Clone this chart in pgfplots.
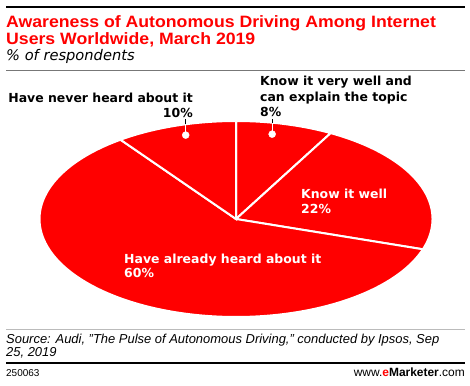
\documentclass[border=0pt]{standalone}
\usepackage{pgfplots}
\pgfplotsset{compat=1.18}
\usepackage{pgfplotstable}
\usepackage{fontspec}
\setmainfont{Liberation Sans}
\newfontfamily\labfont{DejaVu Sans}
\newfontfamily\titlefont[FakeStretch=1.075]{Liberation Sans}
\definecolor{ered}{HTML}{FF0000}
\definecolor{rulegray}{HTML}{777777}
\definecolor{lightrule}{HTML}{BBBBBB}
\pgfplotstableread{
label value
verywell 8
well 22
heard 60
never 10
}\piedata
\newcommand{\lab}{\labfont\fontsize{12.5}{15}\selectfont\bfseries}
\begin{document}
\begin{tikzpicture}[x=1bp,y=1bp]
\path[use as bounding box] (0,0) rectangle (470,385);
\pgfplotstablegetelem{0}{value}\of\piedata \let\vA\pgfplotsretval
\pgfplotstablegetelem{1}{value}\of\piedata \let\vB\pgfplotsretval
\pgfplotstablegetelem{2}{value}\of\piedata \let\vC\pgfplotsretval
\pgfplotstablegetelem{3}{value}\of\piedata \let\vD\pgfplotsretval
\pgfmathsetmacro\aA{0}
\pgfmathsetmacro\aB{\vA*3.6}
\pgfmathsetmacro\aC{(\vA+\vB)*3.6}
\pgfmathsetmacro\aD{(\vA+\vB+\vC)*3.6}
\pgfmathsetmacro\aE{(\vA+\vB+\vC+\vD)*3.6}
% rules and text
\draw[line width=2.5bp] (6,378) -- (465,378);
\node[anchor=base west, inner sep=0, font=\titlefont\fontsize{16.5}{18}\selectfont\bfseries, text=ered] at (6,358) {Awareness of Autonomous Driving Among Internet};
\node[anchor=base west, inner sep=0, font=\titlefont\fontsize{16.5}{18}\selectfont\bfseries, text=ered] at (6,341) {Users Worldwide, March 2019};
\node[anchor=base west, inner sep=0, font=\labfont\fontsize{14.7}{16}\selectfont\itshape] at (6,325) {\% of respondents};
\draw[rulegray, line width=0.8bp] (6,315) -- (465,315);
\begin{axis}[at={(39.5bp,68bp)}, anchor=south west, scale only axis, width=393bp, height=196bp,
  xmin=-1, xmax=1, ymin=-1, ymax=1, hide axis, clip=false]
\addplot[fill=ered, draw=white, line width=2bp, domain=\aA:\aB, samples=60, variable=\t] ({sin(\t)},{cos(\t)}) -- (axis cs:0,0) -- cycle;
\addplot[fill=ered, draw=white, line width=2bp, domain=\aB:\aC, samples=80, variable=\t] ({sin(\t)},{cos(\t)}) -- (axis cs:0,0) -- cycle;
\addplot[fill=ered, draw=white, line width=2bp, domain=\aC:\aD, samples=150, variable=\t] ({sin(\t)},{cos(\t)}) -- (axis cs:0,0) -- cycle;
\addplot[fill=ered, draw=white, line width=2bp, domain=\aD:\aE, samples=60, variable=\t] ({sin(\t)},{cos(\t)}) -- (axis cs:0,0) -- cycle;
\addplot[white, line width=1.2bp] coordinates {(-0.256,0.856) (-0.256,0.967)};
\addplot[black, line width=1.2bp] coordinates {(-0.256,0.967) (-0.256,1.02)};
\addplot[white, line width=1.2bp] coordinates {(0.184,0.866) (0.184,0.983)};
\addplot[black, line width=1.2bp] coordinates {(0.184,0.983) (0.184,1.02)};
\addplot[only marks, mark=*, mark size=3.5bp, mark options={draw=white, fill=white}] coordinates {(-0.256,0.856) (0.184,0.866)};
\end{axis}
\node[anchor=base east, inner sep=0, font=\lab] at (193,283) {Have never heard about it};
\node[anchor=base east, inner sep=0, font=\lab] at (193,268) {10\%};
\node[anchor=base west, inner sep=0, font=\lab] at (260,300) {Know it very well and};
\node[anchor=base west, inner sep=0, font=\lab] at (260,284) {can explain the topic};
\node[anchor=base west, inner sep=0, font=\lab] at (260,269) {8\%};
\node[anchor=base west, inner sep=0, font=\lab, text=white] at (301,187) {Know it well};
\node[anchor=base west, inner sep=0, font=\lab, text=white] at (301,172) {22\%};
\node[anchor=base west, inner sep=0, font=\lab, text=white] at (124,122) {Have already heard about it};
\node[anchor=base west, inner sep=0, font=\lab, text=white] at (124,108) {60\%};
\draw[lightrule, line width=1bp] (6,56) -- (465,56);
\node[anchor=base west, inner sep=0, font=\fontsize{13}{15}\selectfont\itshape] at (6,42) {Source: Audi, "The Pulse of Autonomous Driving," conducted by Ipsos, Sep};
\node[anchor=base west, inner sep=0, font=\fontsize{13}{15}\selectfont\itshape] at (6,29) {25, 2019};
\draw[line width=2.5bp] (6,22) -- (465,22);
\node[anchor=base west, inner sep=0, font=\fontsize{10}{12}\selectfont] at (6,9) {250063};
\node[anchor=base east, inner sep=0, font=\fontsize{12}{14}\selectfont] at (465,9) {www.{\bfseries\textcolor{ered}{e}Marketer}.com};
\end{tikzpicture}
\end{document}
